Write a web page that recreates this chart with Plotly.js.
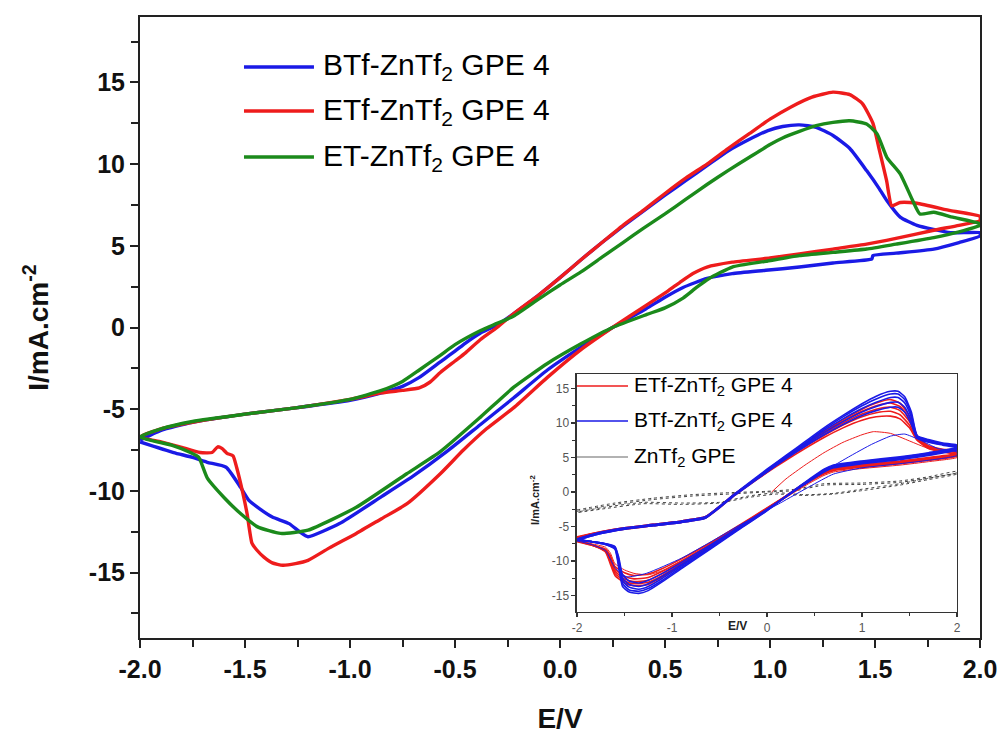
<!DOCTYPE html>
<html>
<head>
<meta charset="utf-8">
<script src="https://cdn.plot.ly/plotly-3.0.1.min.js"></script>
<style>
  html, body { margin: 0; padding: 0; background: #ffffff; }
  #chart { width: 1000px; height: 735px; }
</style>
</head>
<body>
<div id="chart"></div>
<script>
// ---- Cyclic voltammograms, GPE 4 series (E in V, I in mA/cm2) ----

// BTf-ZnTf2 GPE 4: forward sweep -2 -> 2 V, then return sweep 2 -> -2 V
const btfE = [-2.0,-1.9,-1.75,-1.5,-1.25,-1.0,-0.85,-0.75,-0.67,-0.57,-0.5,-0.45,-0.38,-0.3,-0.22,-0.1,0.0,0.1,0.2,0.3,0.4,0.5,0.6,0.7,0.8,0.9,0.99,1.06,1.14,1.22,1.3,1.38,1.46,1.52,1.557,1.62,1.7,1.86,2.0,
  2.0,1.9,1.78,1.6,1.49,1.485,1.3,1.14,0.98,0.82,0.7,0.586,0.5,0.41,0.25,0.1,-0.06,-0.22,-0.38,-0.54,-0.7,-0.85,-1.05,-1.2,-1.24,-1.29,-1.37,-1.43,-1.48,-1.52,-1.59,-1.68,-1.75,-1.84,-2.0];
const btfI = [-6.9,-6.3,-5.8,-5.3,-4.9,-4.45,-4.0,-3.6,-3.05,-2.1,-1.45,-0.95,-0.35,0.15,0.85,2.0,3.05,4.15,5.2,6.2,7.15,8.1,9.0,9.9,10.8,11.5,12.05,12.3,12.4,12.25,11.75,10.95,9.6,8.5,7.75,6.75,6.25,5.8,5.8,
  5.6,5.2,4.8,4.55,4.4,4.2,3.95,3.7,3.5,3.3,3.0,2.45,1.85,1.15,0.0,-1.2,-2.6,-4.3,-5.95,-7.6,-9.1,-10.35,-12.0,-12.8,-12.5,-12.0,-11.6,-11.1,-10.6,-9.8,-8.55,-8.25,-7.95,-7.65,-7.0];

// ETf-ZnTf2 GPE 4
const etfE = [-2.0,-1.9,-1.75,-1.5,-1.25,-1.0,-0.85,-0.75,-0.67,-0.62,-0.57,-0.5,-0.45,-0.38,-0.3,-0.22,-0.1,0.0,0.1,0.2,0.3,0.4,0.5,0.6,0.7,0.8,0.9,1.0,1.1,1.2,1.3,1.38,1.44,1.49,1.52,1.555,1.58,1.62,1.7,1.86,2.0,
  2.0,1.9,1.78,1.6,1.46,1.3,1.14,1.0,0.82,0.7,0.633,0.57,0.51,0.41,0.25,0.1,-0.06,-0.22,-0.35,-0.46,-0.57,-0.73,-0.85,-0.97,-1.1,-1.2,-1.26,-1.32,-1.37,-1.41,-1.445,-1.467,-1.49,-1.51,-1.54,-1.557,-1.586,-1.61,-1.63,-1.657,-1.714,-1.81,-1.9,-2.0];
const etfI = [-6.7,-6.2,-5.8,-5.3,-4.9,-4.4,-4.0,-3.85,-3.7,-3.35,-2.75,-2.05,-1.55,-0.75,0.0,0.85,2.0,3.05,4.15,5.2,6.25,7.2,8.2,9.15,10.0,10.95,11.85,12.75,13.5,14.1,14.4,14.25,13.7,12.5,10.9,9.0,7.45,7.65,7.6,7.15,6.8,
  6.55,6.25,5.95,5.45,5.1,4.8,4.5,4.25,4.0,3.7,3.3,2.75,2.2,1.35,0.0,-1.35,-3.05,-4.9,-6.2,-7.5,-8.95,-10.8,-11.7,-12.6,-13.5,-14.25,-14.45,-14.55,-14.4,-14.05,-13.6,-13.2,-11.4,-10.15,-8.55,-7.85,-7.7,-7.4,-7.3,-7.65,-7.65,-7.3,-7.0,-6.7];

// ET-ZnTf2 GPE 4
const etE = [-2.0,-1.9,-1.75,-1.5,-1.25,-1.0,-0.85,-0.75,-0.67,-0.57,-0.5,-0.38,-0.3,-0.22,-0.1,0.0,0.1,0.2,0.3,0.4,0.5,0.6,0.7,0.8,0.9,1.0,1.06,1.14,1.22,1.3,1.38,1.46,1.51,1.557,1.62,1.68,1.714,1.78,1.87,2.0,
  2.0,1.9,1.78,1.6,1.46,1.3,1.14,0.98,0.82,0.71,0.65,0.586,0.5,0.414,0.25,0.1,-0.06,-0.22,-0.38,-0.57,-0.73,-0.97,-1.2,-1.33,-1.44,-1.52,-1.6,-1.68,-1.72,-1.76,-1.85,-2.0];
const etI = [-6.7,-6.2,-5.75,-5.3,-4.9,-4.4,-3.85,-3.3,-2.6,-1.7,-1.05,-0.2,0.25,0.7,1.75,2.6,3.4,4.3,5.2,6.1,6.95,7.85,8.75,9.6,10.4,11.2,11.6,12.0,12.35,12.55,12.65,12.45,11.85,10.4,9.4,7.75,6.95,7.05,6.75,6.35,
  6.25,5.85,5.5,5.1,4.8,4.6,4.4,4.05,3.7,3.0,2.45,1.8,1.2,0.8,0.0,-1.0,-2.2,-3.65,-5.5,-7.6,-8.95,-11.0,-12.4,-12.6,-12.2,-11.4,-10.4,-9.2,-7.95,-7.65,-7.2,-6.7];

const mainNames = ['BTf-ZnTf<sub>2</sub> GPE 4', 'ETf-ZnTf<sub>2</sub> GPE 4', 'ET-ZnTf<sub>2</sub> GPE 4'];

// Tick labels, main axes
const xTickVals = [-2.0,-1.5,-1.0,-0.5,0.0,0.5,1.0,1.5,2.0];
const xTickText = ['-2.0','-1.5','-1.0','-0.5','0.0','0.5','1.0','1.5','2.0'];
const yTickVals = [-15,-10,-5,0,5,10,15];
const yTickText = ['-15','-10','-5','0','5','10','15'];
// Tick labels, inset axes
const x2TickVals = [-2,-1,0,1,2];
const x2TickText = ['-2','-1','0','1','2'];
const y2TickVals = [-15,-10,-5,0,5,10,15];
const y2TickText = ['-15','-10','-5','0','5','10','15'];

// ---- Inset: repeated cycling ----
const etfCycE = [-2.0,-1.8,-1.5,-1.2,-0.9,-0.65,-0.5,-0.35,-0.2,0.0,0.2,0.4,0.6,0.8,1.0,1.15,1.3,1.4,1.5,1.58,1.7,1.85,2.0,
  2.0,1.7,1.4,1.0,0.7,0.6,0.45,0.27,0.0,-0.3,-0.6,-0.9,-1.1,-1.25,-1.4,-1.5,-1.6,-1.65,-1.7,-1.85,-2.0];
const etfCyc1 = [-6.8,-6.1,-5.4,-4.9,-4.4,-3.8,-2.3,-0.6,0.9,2.8,4.6,6.3,7.9,9.3,10.4,10.9,11.0,10.6,9.3,7.5,6.3,5.8,5.5,
  5.2,4.6,4.1,3.6,3.1,2.6,1.5,0.0,-2.3,-4.9,-7.4,-9.7,-11.1,-11.9,-12.1,-11.7,-10.8,-9.2,-8.3,-7.7,-7.2];
const etfCyc2 = [-6.7,-6.0,-5.3,-4.8,-4.3,-3.7,-2.2,-0.5,1.0,2.9,4.8,6.6,8.2,9.7,10.9,11.5,11.7,11.2,9.7,7.6,6.4,5.9,5.7,
  5.3,4.7,4.2,3.7,3.2,2.7,1.6,0.0,-2.4,-5.0,-7.6,-10.0,-11.5,-12.4,-12.6,-12.2,-11.2,-9.5,-8.4,-7.7,-7.1];
const etfCyc3 = [-6.6,-6.0,-5.3,-4.8,-4.3,-3.7,-2.2,-0.5,1.0,3.0,4.9,6.8,8.5,10.0,11.3,12.0,12.3,11.8,10.2,7.8,6.5,6.0,5.8,
  5.4,4.8,4.3,3.8,3.3,2.8,1.6,0.0,-2.4,-5.1,-7.7,-10.2,-11.8,-12.8,-13.0,-12.6,-11.5,-9.8,-8.5,-7.6,-7.1];
const etfCyc4 = [-6.6,-5.9,-5.2,-4.7,-4.2,-3.6,-2.1,-0.4,1.1,3.1,5.0,6.9,8.7,10.3,11.7,12.5,12.9,12.4,10.6,8.0,6.6,6.1,5.9,
  5.5,4.9,4.4,3.9,3.4,2.9,1.7,0.1,-2.5,-5.2,-7.9,-10.4,-12.1,-13.1,-13.3,-12.9,-11.8,-10.1,-8.6,-7.6,-7.0];
const etfCyc5 = [-6.5,-5.9,-5.2,-4.7,-4.2,-3.6,-2.1,-0.4,1.1,3.1,5.1,7.0,8.8,10.5,12.0,12.9,13.4,12.9,11.0,8.2,6.7,6.2,6.0,
  5.6,5.0,4.5,4.0,3.5,3.0,1.8,0.1,-2.5,-5.3,-8.0,-10.6,-12.3,-13.4,-13.6,-13.2,-12.1,-10.4,-8.7,-7.6,-7.0];
// first scan, starting from open circuit
const etfFirstE = [0.05,0.2,0.4,0.6,0.8,1.0,1.12,1.3,1.5,1.7,2.0,
  2.0,1.7,1.4,1.0,0.7,0.6,0.45,0.27,0.0,-0.3,-0.6,-0.9,-1.1,-1.25,-1.4,-1.5,-1.6,-1.65,-1.7,-1.85,-2.0];
const etfFirstI = [0.0,1.9,3.9,5.7,7.2,8.3,8.75,8.5,7.4,6.3,5.3,
  5.0,4.4,3.9,3.4,2.9,2.4,1.3,-0.2,-2.6,-5.2,-7.7,-10.0,-11.4,-12.0,-11.8,-11.3,-10.4,-8.8,-8.0,-7.5,-7.1];

const btfCycE = [-2.0,-1.8,-1.5,-1.2,-0.9,-0.65,-0.5,-0.35,-0.2,0.0,0.2,0.4,0.6,0.8,1.0,1.15,1.3,1.38,1.45,1.52,1.58,1.7,1.85,2.0,
  2.0,1.7,1.4,1.0,0.7,0.6,0.45,0.27,0.0,-0.3,-0.6,-0.9,-1.1,-1.25,-1.35,-1.45,-1.52,-1.56,-1.6,-1.7,-1.85,-2.0];
const btfCyc1 = [-7.0,-6.2,-5.4,-4.9,-4.4,-3.8,-2.3,-0.6,0.9,2.9,4.8,6.6,8.3,9.8,11.1,11.8,12.3,12.3,11.6,9.8,7.8,7.2,6.8,6.4,
  6.1,5.3,4.7,4.1,3.5,2.9,1.6,0.0,-2.5,-5.1,-7.7,-10.2,-11.8,-12.8,-13.2,-12.9,-12.0,-9.5,-7.9,-7.5,-7.2,-6.9];
const btfCyc2 = [-7.0,-6.2,-5.4,-4.9,-4.4,-3.8,-2.2,-0.5,1.0,3.0,5.0,6.8,8.6,10.2,11.6,12.4,13.0,13.0,12.3,10.3,7.9,7.3,6.9,6.5,
  6.2,5.4,4.8,4.2,3.6,3.0,1.7,0.0,-2.6,-5.2,-7.9,-10.5,-12.2,-13.3,-13.7,-13.4,-12.5,-9.8,-8.0,-7.5,-7.2,-6.9];
const btfCyc3 = [-6.9,-6.1,-5.3,-4.8,-4.3,-3.7,-2.2,-0.5,1.0,3.1,5.1,7.0,8.9,10.6,12.1,13.0,13.7,13.7,12.9,10.8,8.0,7.4,7.0,6.6,
  6.3,5.5,4.9,4.3,3.7,3.1,1.7,0.0,-2.6,-5.3,-8.0,-10.7,-12.5,-13.7,-14.1,-13.8,-12.9,-10.2,-8.1,-7.5,-7.2,-6.9];
const btfCyc4 = [-6.9,-6.1,-5.3,-4.8,-4.3,-3.7,-2.1,-0.4,1.1,3.2,5.2,7.1,9.1,10.9,12.5,13.5,14.2,14.2,13.4,11.2,8.1,7.5,7.0,6.7,
  6.4,5.6,5.0,4.4,3.8,3.2,1.8,0.1,-2.7,-5.4,-8.2,-10.9,-12.8,-14.0,-14.4,-14.2,-13.3,-10.6,-8.2,-7.6,-7.2,-6.9];
const btfCyc5 = [-6.8,-6.0,-5.2,-4.7,-4.2,-3.6,-2.1,-0.4,1.2,3.3,5.3,7.3,9.3,11.1,12.8,13.9,14.6,14.6,13.8,11.6,8.2,7.6,7.1,6.8,
  6.5,5.7,5.1,4.5,3.9,3.3,1.9,0.1,-2.7,-5.5,-8.3,-11.1,-13.0,-14.3,-14.7,-14.5,-13.7,-11.0,-8.3,-7.6,-7.2,-6.9];
const btfFirstE = [0.3,0.5,0.7,0.9,1.1,1.3,1.45,1.6,1.8,2.0,
  2.0,1.7,1.4,1.0,0.7,0.45,0.14,-0.3,-0.6,-0.9,-1.27,-1.48,-1.6,-1.7,-1.85,-2.0];
const btfFirstI = [0.3,2.0,3.8,5.4,6.9,8.1,8.4,7.6,6.3,5.8,
  5.3,4.6,4.1,3.5,2.6,0.8,-1.6,-4.9,-7.3,-9.6,-11.8,-12.3,-11.0,-8.5,-7.6,-7.1];

// ZnTf2 GPE (no additive), two cycles
const znE = [-2.0,-1.6,-1.2,-0.8,-0.4,0.0,0.3,0.6,1.0,1.4,1.7,2.0,
  2.0,1.7,1.4,1.0,0.7,0.4,0.1,-0.2,-0.5,-0.9,-1.3,-1.7,-2.0];
const znCyc1 = [-2.6,-1.6,-0.9,-0.4,-0.1,0.1,0.4,1.2,1.3,1.6,2.2,3.0,
  2.8,2.0,1.2,0.4,-0.2,-0.4,-0.1,-0.6,-1.5,-1.6,-1.5,-2.2,-2.9];
const znCyc2 = [-2.8,-1.8,-1.1,-0.6,-0.3,0.0,0.2,1.0,1.1,1.4,2.0,2.7,
  2.6,1.8,1.0,0.2,-0.3,-0.5,-0.3,-0.8,-1.6,-1.8,-1.7,-2.4,-3.0];

const insetNames = ['ETf-ZnTf<sub>2</sub> GPE 4', 'BTf-ZnTf<sub>2</sub> GPE 4', 'ZnTf<sub>2</sub> GPE'];

// ---- styling ----
const BLUE = '#1a1ae6', RED = '#ee1c1c', GREEN = '#1b8a1b', GREY = '#666666';
const FONT = 'Arial, "Liberation Sans", sans-serif';

const traces = [];
function mainLine(x, y, color) {
  traces.push({x: x, y: y, type: 'scatter', mode: 'lines', showlegend: false,
    line: {color: color, width: 3.4, shape: 'spline', smoothing: 0.5}, hoverinfo: 'skip'});
}
mainLine(btfE, btfI, BLUE);
mainLine(etfE, etfI, RED);
mainLine(etE, etI, GREEN);

function insetLine(x, y, color, width, dash) {
  traces.push({x: x, y: y, xaxis: 'x2', yaxis: 'y2', type: 'scatter', mode: 'lines',
    showlegend: false, hoverinfo: 'skip',
    line: {color: color, width: width, dash: dash || 'solid', shape: 'spline', smoothing: 0.5}});
}
insetLine(znE, znCyc1, '#444444', 1, 'dot');
insetLine(znE, znCyc2, '#444444', 1, 'dot');
[etfCyc1, etfCyc2, etfCyc3, etfCyc4, etfCyc5].forEach(c => insetLine(etfCycE, c, RED, 1.6));
insetLine(etfFirstE, etfFirstI, RED, 1);
[btfCyc1, btfCyc2, btfCyc3, btfCyc4, btfCyc5].forEach(c => insetLine(btfCycE, c, BLUE, 1.6));
insetLine(btfFirstE, btfFirstI, BLUE, 1);

// legend keys drawn as short line samples with labels
const shapes = [];
const annotations = [];
const mainKeyColors = [BLUE, RED, GREEN];
const mainKeyY = [0.9195, 0.8486, 0.7745];
mainNames.forEach((name, i) => {
  shapes.push({type: 'line', xref: 'paper', yref: 'paper', x0: 0.1238, x1: 0.2071,
    y0: mainKeyY[i], y1: mainKeyY[i], line: {color: mainKeyColors[i], width: 3.4}});
  annotations.push({xref: 'paper', yref: 'paper', x: 0.2150, y: mainKeyY[i], xanchor: 'left',
    yanchor: 'middle', text: name, showarrow: false,
    font: {family: FONT, size: 30, color: '#000'}});
});
const insetKeyColors = [RED, BLUE, GREY];
const insetKeyY = [0.4058, 0.3494, 0.2915];
insetNames.forEach((name, i) => {
  shapes.push({type: 'line', xref: 'paper', yref: 'paper', x0: 0.5202, x1: 0.5810,
    y0: insetKeyY[i], y1: insetKeyY[i], line: {color: insetKeyColors[i], width: i === 2 ? 1.2 : 1.6}});
  annotations.push({xref: 'paper', yref: 'paper', x: 0.586, y: insetKeyY[i], xanchor: 'left',
    yanchor: 'middle', text: name, showarrow: false,
    font: {family: FONT, size: 21, color: '#000'}});
});
// inset axis titles
annotations.push({xref: 'paper', yref: 'paper', x: 0.711, y: 0.0193, xanchor: 'center', yanchor: 'middle',
  text: '<b>E/V</b>', showarrow: false, font: {family: FONT, size: 12, color: '#222'}});
annotations.push({xref: 'paper', yref: 'paper', x: 0.470, y: 0.222, xanchor: 'center', yanchor: 'middle',
  text: '<b>I/mA.cm<sup>-2</sup></b>', textangle: -90, showarrow: false,
  font: {family: FONT, size: 11, color: '#222'}});

const layout = {
  width: 1000, height: 735,
  margin: {l: 140, r: 20, t: 17, b: 97},
  paper_bgcolor: '#ffffff', plot_bgcolor: 'rgba(0,0,0,0)',
  font: {family: FONT, color: '#000'},
  showlegend: false,
  xaxis: {
    range: [-2, 2], tickmode: 'array', tickvals: xTickVals, ticktext: xTickText,
    ticks: 'outside', ticklen: 8, tickwidth: 2, tickcolor: '#222',
    minor: {dtick: 0.25, ticks: 'outside', ticklen: 7, tickwidth: 2, tickcolor: '#222'},
    showline: true, linecolor: '#222', linewidth: 2, mirror: true,
    showgrid: false, zeroline: false,
    tickfont: {family: FONT, size: 25, weight: 700, color: '#111'},
    title: {text: 'E/V', standoff: 26, font: {family: FONT, size: 28, weight: 700, color: '#111'}}
  },
  yaxis: {
    range: [-19, 19], tickmode: 'array', tickvals: yTickVals, ticktext: yTickText,
    ticks: 'outside', ticklen: 8, tickwidth: 2, tickcolor: '#222',
    minor: {dtick: 2.5, ticks: 'outside', ticklen: 7, tickwidth: 2, tickcolor: '#222'},
    showline: true, linecolor: '#222', linewidth: 2, mirror: true,
    showgrid: false, zeroline: false,
    tickfont: {family: FONT, size: 25, weight: 700, color: '#111'},
    title: {text: 'I/mA.cm<sup>-2</sup>', standoff: 32, font: {family: FONT, size: 28, weight: 700, color: '#111'}}
  },
  xaxis2: {
    domain: [0.5202, 0.9726], anchor: 'y2', range: [-2, 2],
    tickmode: 'array', tickvals: x2TickVals, ticktext: x2TickText,
    ticks: 'outside', ticklen: 4, tickwidth: 1.2, tickcolor: '#333',
    minor: {dtick: 0.5, ticks: 'outside', ticklen: 3, tickwidth: 1.2, tickcolor: '#333'},
    showline: true, linecolor: '#333', linewidth: 1.5, mirror: true,
    showgrid: false, zeroline: false,
    tickfont: {family: FONT, size: 12, color: '#555'}
  },
  yaxis2: {
    domain: [0.0419, 0.425], anchor: 'x2', range: [-17.4, 17.1],
    tickmode: 'array', tickvals: y2TickVals, ticktext: y2TickText,
    ticks: 'outside', ticklen: 4, tickwidth: 1.2, tickcolor: '#333',
    minor: {dtick: 2.5, ticks: 'outside', ticklen: 3, tickwidth: 1.2, tickcolor: '#333'},
    showline: true, linecolor: '#333', linewidth: 1.5, mirror: true,
    showgrid: false, zeroline: false,
    tickfont: {family: FONT, size: 12, color: '#555'}
  },
  shapes: shapes,
  annotations: annotations
};

Plotly.newPlot('chart', traces, layout, {staticPlot: true, displayModeBar: false});
</script>
</body>
</html>
